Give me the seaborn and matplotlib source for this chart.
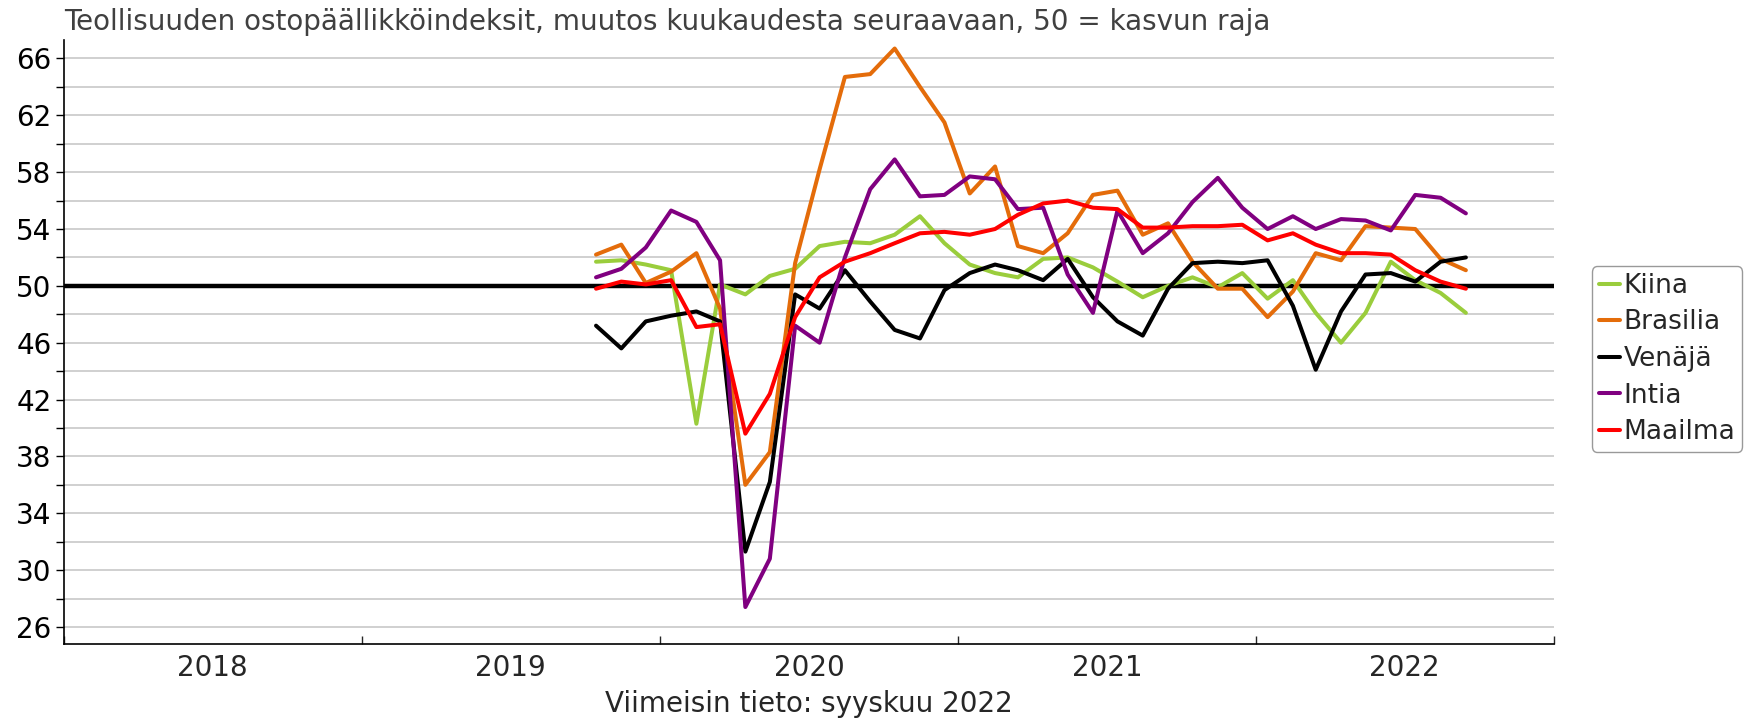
#%% libraries
import matplotlib
matplotlib.use('Agg')
import matplotlib.pyplot as plt
import pandas as pd
import seaborn as sns

#%% data (monthly Oct 2019 - Sep 2022)
months = pd.date_range('2019-10-01', periods=36, freq='MS') + pd.Timedelta(days=14)

kiina = [51.7, 51.8, 51.5, 51.1, 40.3, 50.1, 49.4, 50.7, 51.2, 52.8, 53.1, 53.0,
         53.6, 54.9, 53.0, 51.5, 50.9, 50.6, 51.9, 52.0, 51.3, 50.3, 49.2, 50.0,
         50.6, 49.9, 50.9, 49.1, 50.4, 48.1, 46.0, 48.1, 51.7, 50.4, 49.5, 48.1]
brasilia = [52.2, 52.9, 50.2, 51.0, 52.3, 48.4, 36.0, 38.3, 51.6, 58.2, 64.7, 64.9,
            66.7, 64.0, 61.5, 56.5, 58.4, 52.8, 52.3, 53.7, 56.4, 56.7, 53.6, 54.4,
            51.7, 49.8, 49.8, 47.8, 49.6, 52.3, 51.8, 54.2, 54.1, 54.0, 51.9, 51.1]
venaja = [47.2, 45.6, 47.5, 47.9, 48.2, 47.5, 31.3, 36.2, 49.4, 48.4, 51.1, 48.9,
          46.9, 46.3, 49.7, 50.9, 51.5, 51.1, 50.4, 51.9, 49.2, 47.5, 46.5, 49.8,
          51.6, 51.7, 51.6, 51.8, 48.6, 44.1, 48.2, 50.8, 50.9, 50.3, 51.7, 52.0]
intia = [50.6, 51.2, 52.7, 55.3, 54.5, 51.8, 27.4, 30.8, 47.2, 46.0, 52.0, 56.8,
         58.9, 56.3, 56.4, 57.7, 57.5, 55.4, 55.5, 50.8, 48.1, 55.3, 52.3, 53.7,
         55.9, 57.6, 55.5, 54.0, 54.9, 54.0, 54.7, 54.6, 53.9, 56.4, 56.2, 55.1]
maailma = [49.8, 50.3, 50.1, 50.4, 47.1, 47.3, 39.6, 42.4, 47.8, 50.6, 51.7, 52.3,
           53.0, 53.7, 53.8, 53.6, 54.0, 55.0, 55.8, 56.0, 55.5, 55.4, 54.1, 54.1,
           54.2, 54.2, 54.3, 53.2, 53.7, 52.9, 52.3, 52.3, 52.2, 51.1, 50.3, 49.8]

series = {'Kiina': kiina, 'Brasilia': brasilia, 'Venäjä': venaja,
          'Intia': intia, 'Maailma': maailma}
colors = {'Kiina': '#9acd3c', 'Brasilia': '#e46c0a', 'Venäjä': '#000000',
          'Intia': '#800080', 'Maailma': '#ff0000'}
years = [2018, 2019, 2020, 2021, 2022]

df = pd.DataFrame([{'Kuukausi': m, 'Maa': k, 'Indeksi': v}
                   for k, vals in series.items() for m, v in zip(months, vals)])

#%% plot
sns.set_style('white')
plt.rcParams['font.family'] = ['DejaVu Sans']

fig = plt.figure(figsize=(17.44, 7.2), dpi=100)
ax = fig.add_axes([64 / 1744, 76 / 720, 1490 / 1744, 604 / 720])

sns.lineplot(data=df, x='Kuukausi', y='Indeksi', hue='Maa', palette=colors,
             linewidth=2.9, ax=ax, zorder=3)
ax.axhline(50, color='black', linewidth=3.2, zorder=2)

# y axis
ax.set_ylim(24.8, 67.3)
ax.set_yticks(range(26, 67, 4))
ax.set_yticks(range(28, 67, 4), minor=True)
ax.yaxis.grid(True, which='both', color='#c8c8c8', linewidth=1.2)
ax.tick_params(axis='y', which='both', direction='out', length=6, width=1,
               labelsize=20, colors='black', left=True, pad=3)
ax.set_ylabel('')

# x axis: ticks at year borders, labels in the middle of years
ax.set_xlim(pd.Timestamp('2018-01-01'), pd.Timestamp('2023-01-01'))
ax.set_xticks([pd.Timestamp(f'{y}-01-01') for y in years + [2023]])
ax.set_xticklabels([])
ax.set_xticks([pd.Timestamp(f'{y}-07-02') for y in years], minor=True)
ax.set_xticklabels([str(y) for y in years], minor=True)
ax.tick_params(axis='x', which='major', direction='in', length=6, width=1, bottom=True)
ax.tick_params(axis='x', which='minor', length=0, labelsize=20, pad=7)
ax.set_xlabel('Viimeisin tieto: syyskuu 2022', fontsize=20, labelpad=6)

sns.despine(ax=ax)
for s in ['left', 'bottom']:
    ax.spines[s].set_color('black')
    ax.spines[s].set_linewidth(1.2)

ax.set_title('Teollisuuden ostopäällikköindeksit, muutos kuukaudesta seuraavaan, 50 = kasvun raja',
             loc='left', fontsize=20, color='#404040', pad=7, x=0.0)

leg = ax.legend(loc='center left', bbox_to_anchor=(1592 / 1744, 361 / 720),
                bbox_transform=fig.transFigure, fontsize=19, frameon=True,
                fancybox=True, edgecolor='#808080', handlelength=0.8,
                handletextpad=0.15, labelspacing=0.4, borderpad=0.25,
                borderaxespad=0)
leg.get_frame().set_linewidth(1)
for line in leg.get_lines():
    line.set_linewidth(2.9)

fig.savefig('out.png', dpi=100)
